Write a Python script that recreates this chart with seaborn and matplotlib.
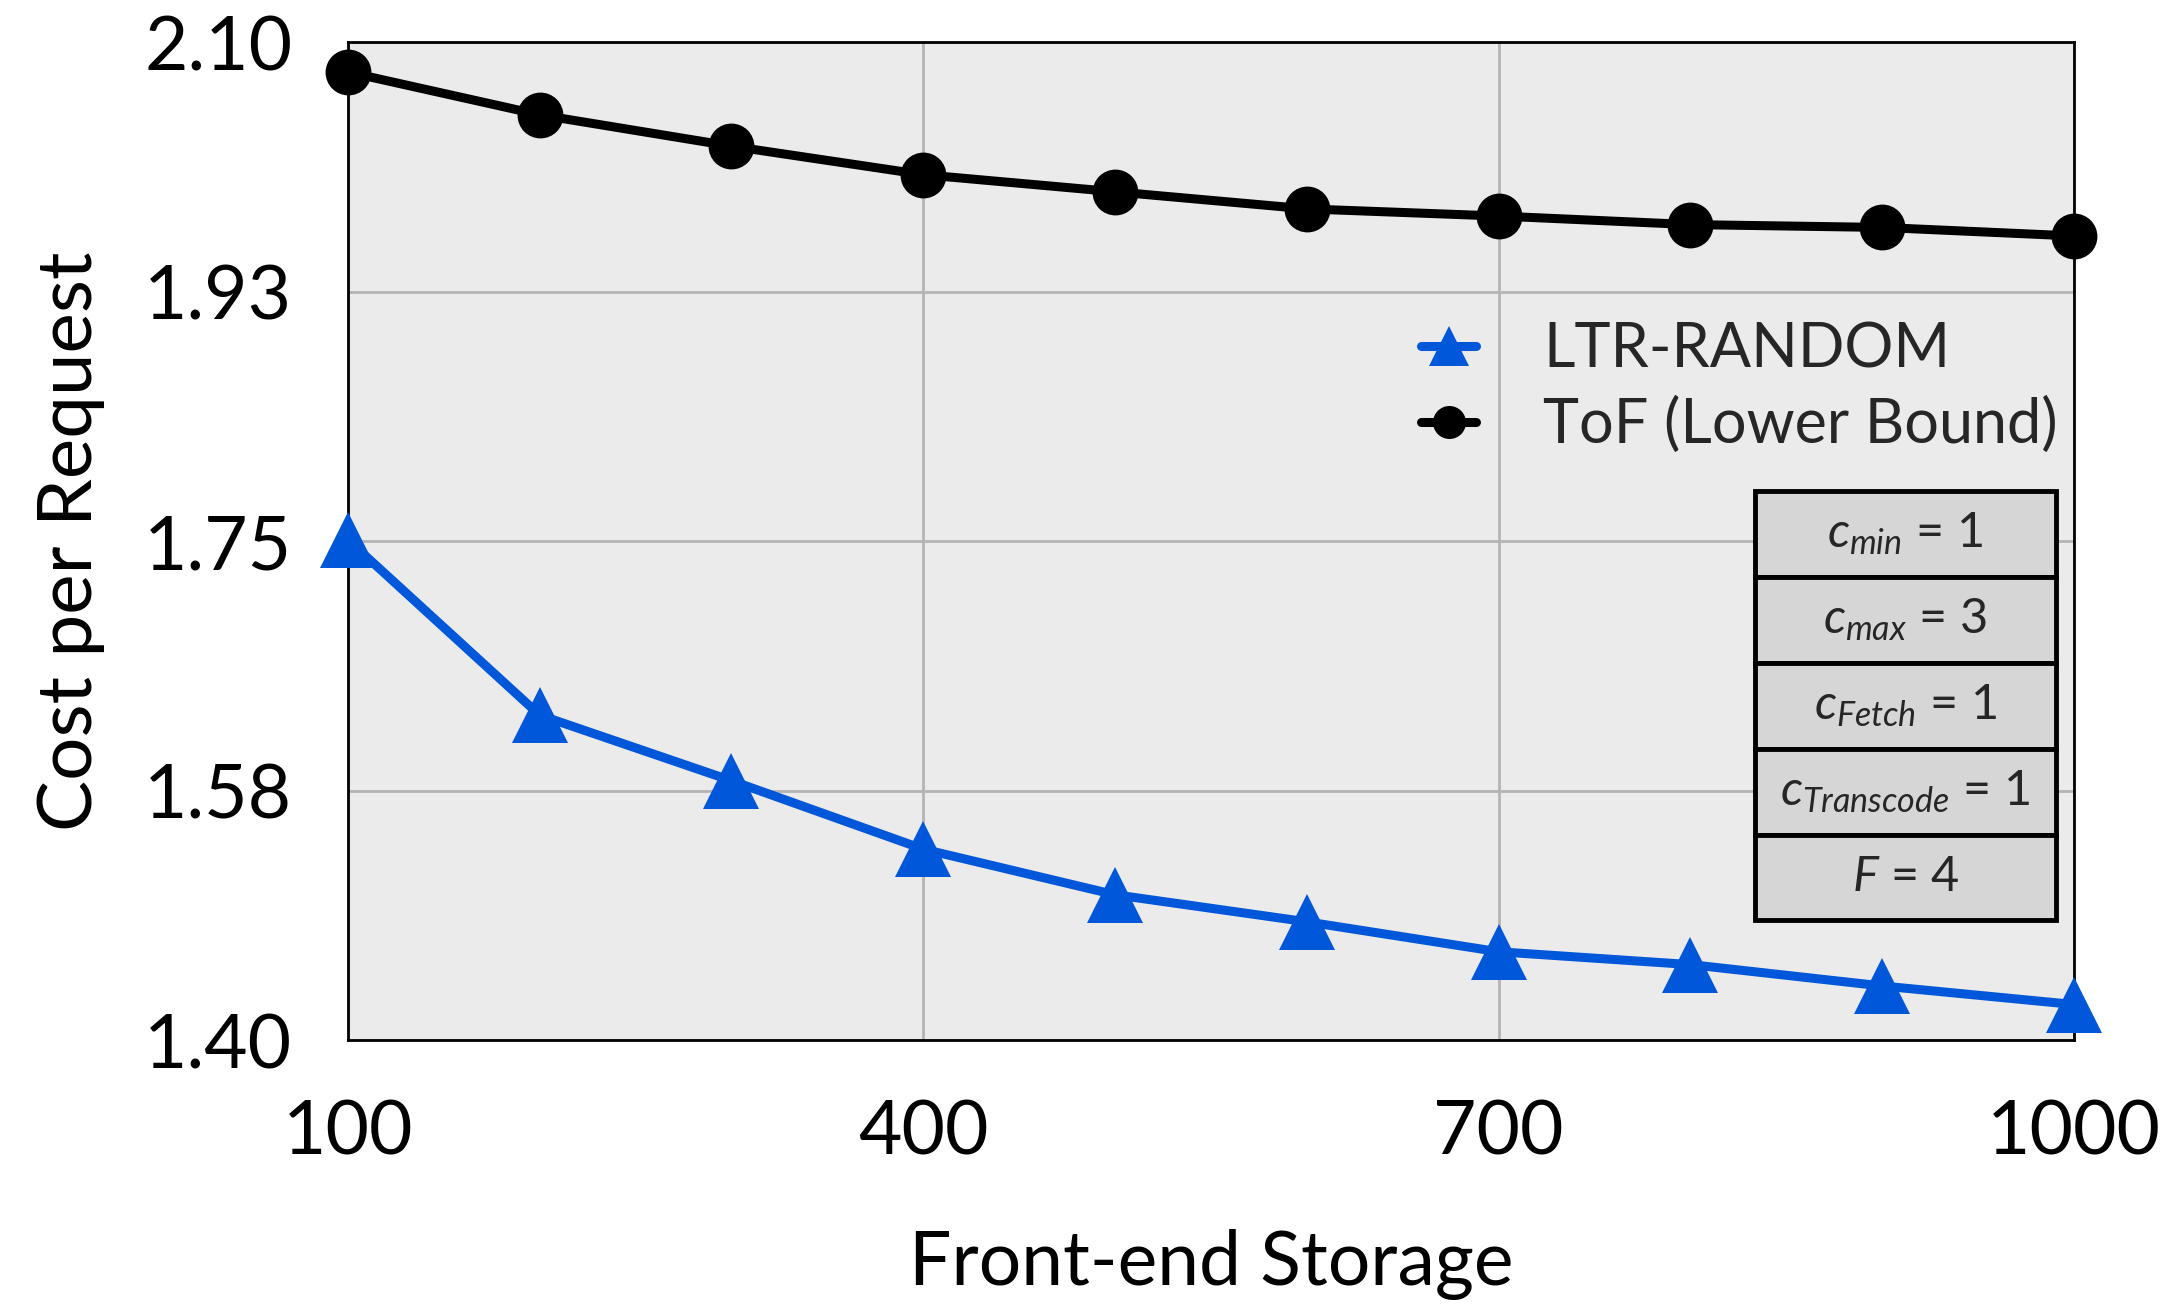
import numpy as np
import pandas as pd
import matplotlib
matplotlib.use("Agg")
import matplotlib.pyplot as plt
import seaborn as sns

storage = [100, 200, 300, 400, 500, 600, 700, 800, 900, 1000]
ltr_random = [1.751, 1.628, 1.582, 1.534, 1.502, 1.483, 1.462, 1.453, 1.438, 1.425]
tof_lower = [2.079, 2.049, 2.027, 2.007, 1.995, 1.983, 1.978, 1.972, 1.970, 1.964]
series_names = ["LTR-RANDOM", "ToF (Lower Bound)"]
y_ticks = [1.40, 1.575, 1.75, 1.925, 2.10]
y_tick_labels = ["1.40", "1.58", "1.75", "1.93", "2.10"]
x_ticks = [100, 400, 700, 1000]
table_rows = [r"$c_{min}$ = 1", r"$c_{max}$ = 3", r"$c_{Fetch}$ = 1",
              r"$c_{Transcode}$ = 1", r"$F$ = $\mathit{4}$"]

sns.set_theme(style="whitegrid")
plt.rcParams["font.family"] = ["Lato", "DejaVu Sans"]
plt.rcParams["mathtext.fontset"] = "custom"
plt.rcParams["mathtext.it"] = "Lato:italic"
plt.rcParams["mathtext.rm"] = "Lato"

df = pd.DataFrame({
    "storage": storage * 2,
    "cost": ltr_random + tof_lower,
    "series": [series_names[0]] * len(storage) + [series_names[1]] * len(storage),
})

fig = plt.figure(figsize=(21.74, 13.15), dpi=100)
ax = fig.add_axes([0.160, 0.209, 0.794, 0.759])
ax.set_facecolor("#ebebeb")

colors = {series_names[0]: "#0057d9", series_names[1]: "#000000"}
markers = {series_names[0]: "^", series_names[1]: "o"}
for name in series_names:
    sub = df[df["series"] == name]
    sns.lineplot(data=sub, x="storage", y="cost", ax=ax, color=colors[name],
                 marker=markers[name], markersize=33 if name == series_names[1] else 40,
                 markeredgewidth=0, linewidth=6.5, label=name, clip_on=False, zorder=5)

ax.set_xlim(100, 1000)
ax.set_ylim(1.40, 2.10)
ax.set_xticks(x_ticks)
ax.set_xticklabels([str(t) for t in x_ticks])
ax.set_yticks(y_ticks)
ax.set_yticklabels(y_tick_labels)
ax.tick_params(axis="both", length=0, labelsize=54, colors="black")
ax.tick_params(axis="x", pad=42)
ax.tick_params(axis="y", pad=40)
ax.grid(True, color="#b4b4b4", linewidth=2)
for s in ax.spines.values():
    s.set_color("black")
    s.set_linewidth(2)
    s.set_visible(True)

ax.set_xlabel("Front-end Storage", fontsize=54, labelpad=44, color="black")
ax.set_ylabel("Cost per Request", fontsize=55, labelpad=28, color="black")

leg = ax.legend(loc="upper left", bbox_to_anchor=(0.590, 0.775), frameon=False,
                fontsize=44, handlelength=0.9, handletextpad=1.1, labelspacing=0.3,
                markerscale=0.72)

# parameter table
tb = ax.table(cellText=[[r] for r in table_rows], cellLoc="center",
              bbox=[0.8153, 0.12, 0.174, 0.43], zorder=6)
tb.auto_set_font_size(False)
for (r, c), cell in tb.get_celld().items():
    cell.set_facecolor("#d6d6d6")
    cell.set_edgecolor("black")
    cell.set_linewidth(3.5)
    cell.get_text().set_fontsize(35)

fig.savefig("out.png", dpi=100)
